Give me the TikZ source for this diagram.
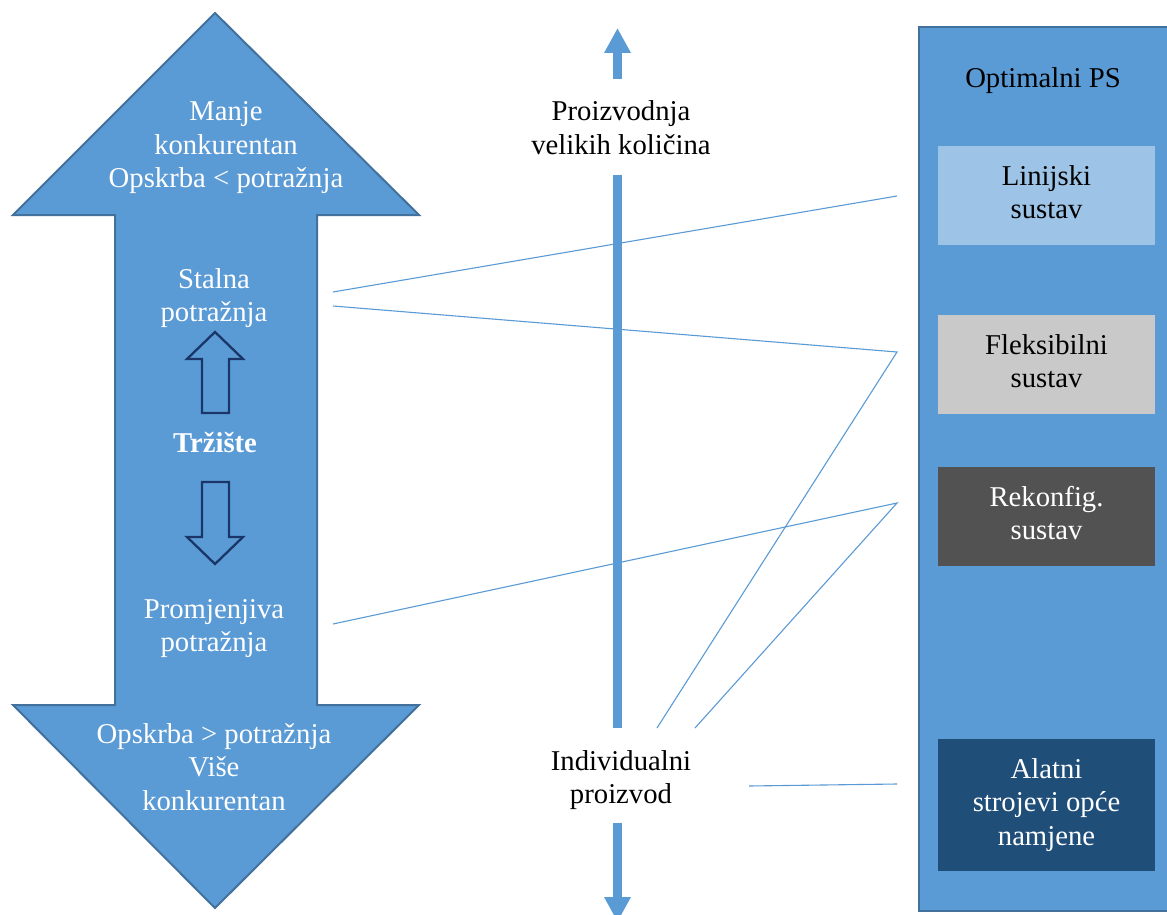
\documentclass[tikz,border=0pt]{standalone}
\usepackage{fontspec}
\setmainfont{Liberation Serif}
\usetikzlibrary{arrows.meta}
\definecolor{officeblue}{HTML}{5B9BD5}
\definecolor{officeedge}{HTML}{41719C}
\definecolor{navyline}{HTML}{1A3668}
\definecolor{linfill}{HTML}{9DC3E6}
\definecolor{flexfill}{HTML}{C9C9C9}
\definecolor{rekfill}{HTML}{525252}
\definecolor{alatfill}{HTML}{1F4E79}
\newcommand{\ml}[1]{\begin{tabular}[t]{@{}c@{}}#1\end{tabular}}
\begin{document}
\begin{tikzpicture}[x=1pt,y=-1pt,
  every node/.style={inner sep=0pt, font=\fontsize{28.7}{33.5}\selectfont},
  wtxt/.style={text=white, anchor=base},
  btxt/.style={text=black, anchor=base},
  bigarrow/.style={fill=officeblue, draw=officeedge, line width=2pt, line join=miter},
  outarrow/.style={draw=navyline, line width=2.3pt, line join=miter},
  midarrow/.style={draw=officeblue, line width=9pt, -{Triangle[width=25pt,length=25pt]}},
  midshaft/.style={draw=officeblue, line width=9pt},
  thinlink/.style={draw=officeblue, line width=1.1pt},
  panel/.style={fill=officeblue, draw=officeedge, line width=2.5pt},
  psbox/.style={minimum width=217pt, minimum height=99pt, draw=none}
]
\clip (0,0) rectangle (1167,915);
\fill[white] (0,0) rectangle (1167,915);

% big double arrow
\path[bigarrow] (215,13) -- (419,215) -- (317,215) -- (317,705) -- (419,705)
  -- (215,908) -- (13,705) -- (115,705) -- (115,215) -- (13,215) -- cycle;

% small outlined arrows
\path[outarrow] (215,332) -- (243,359) -- (229,359) -- (229,413) -- (202,413)
  -- (202,359) -- (187,359) -- cycle;
\path[outarrow] (202,482) -- (229,482) -- (229,537) -- (243,537) -- (215,564)
  -- (187,537) -- (202,537) -- cycle;

% texts in the big arrow
\node[wtxt] (manje) at (226,121) {\ml{Manje\\konkurentan\\Opskrba < potražnja}};
\node[wtxt] (stalna) at (214,288) {\ml{Stalna\\potražnja}};
\node[wtxt] (trziste) at (215,452) {\bfseries Tržište};
\node[wtxt] (promj) at (214,618) {\ml{Promjenjiva\\potražnja}};
\node[wtxt] (vise) at (214,743) {\ml{Opskrba > potražnja\\Više\\konkurentan}};

% right panel
\path[panel] (919,27) rectangle (1185,911);
\node[btxt] (opt) at (1043,88) {Optimalni PS};
\node[psbox, fill=linfill, text=black] (lin) at (1046.5,195.5) {\ml{Linijski\\sustav}};
\node[psbox, fill=flexfill, text=black] (flex) at (1046.5,364.5) {\ml{Fleksibilni\\sustav}};
\node[psbox, fill=rekfill, text=white] (rek) at (1046.5,516.5) {\ml{Rekonfig.\\sustav}};
\node[psbox, fill=alatfill, text=white, minimum height=132pt] (alat) at (1046.5,805) {\ml{Alatni\\strojevi opće\\namjene}};

% middle axis
\node[btxt] (prod) at (621,121) {\ml{Proizvodnja\\velikih količina}};
\node[btxt] (indiv) at (621,770) {\ml{Individualni\\proizvod}};
\coordinate (upA) at (617.5,79);
\coordinate (upB) at (617.5,28);
\coordinate (shA) at (617.5,175);
\coordinate (shB) at (617.5,728);
\coordinate (dnA) at (617.5,823);
\coordinate (dnB) at (617.5,922);
\draw[midarrow] (upA) -- (upB);
\draw[midshaft] (shA) -- (shB);
\draw[midarrow] (dnA) -- (dnB);

% thin links
\coordinate (s1) at (333,292);
\coordinate (s2) at (333,306);
\coordinate (p1) at (333,624);
\coordinate (l1) at (897,196);
\coordinate (f1) at (897,352);
\coordinate (r1) at (897,503);
\coordinate (a1) at (897,784);
\coordinate (i1) at (657,728);
\coordinate (i2) at (695,728);
\coordinate (i3) at (749,786);
\draw[thinlink] (s1) -- (l1);
\draw[thinlink] (s2) -- (f1) -- (i1);
\draw[thinlink] (p1) -- (r1) -- (i2);
\draw[thinlink] (i3) -- (a1);
\end{tikzpicture}
\end{document}
